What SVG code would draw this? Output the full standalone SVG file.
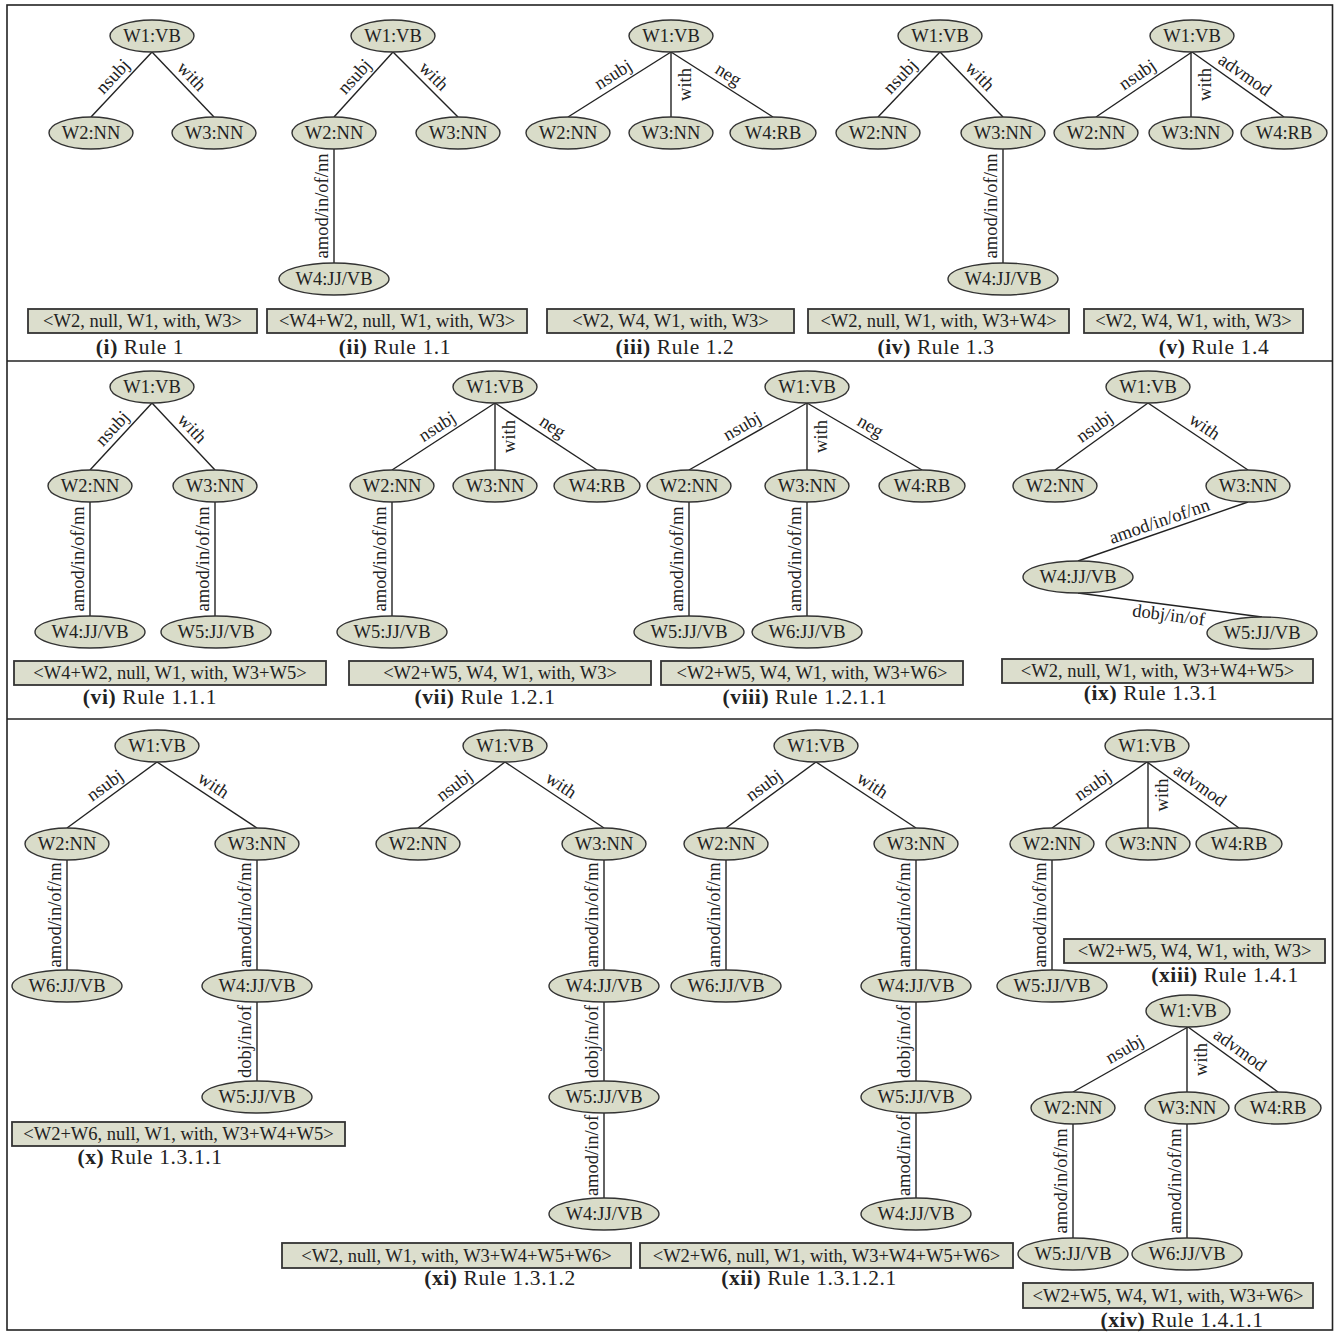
<svg xmlns="http://www.w3.org/2000/svg" width="1337" height="1332" viewBox="0 0 1337 1332">
<style>
text{font-family:"Liberation Serif","Times New Roman",serif;fill:#222;text-anchor:middle}
.node ellipse{fill:#d9dcc9;stroke:#333;stroke-width:1.4}
.node text{font-size:18.5px}
.edges line{stroke:#222;stroke-width:1.4}
.edges text{font-size:18.5px}
.box rect{fill:#dcdecd;stroke:#333;stroke-width:1.8}
.box text{font-size:18.5px}
.cap{font-size:21.5px;letter-spacing:0.6px}
.cap tspan{font-weight:bold}
.frame{fill:#fff;stroke:#222;stroke-width:1.6}
</style>
<rect class="frame" x="7" y="5" width="1325.5" height="1325"/>
<line x1="7" y1="361" x2="1332.5" y2="361" stroke="#222" stroke-width="1.6"/>
<line x1="7" y1="719" x2="1332.5" y2="719" stroke="#222" stroke-width="1.6"/>

<!-- Panel i -->
<g id="panel-i">
<g class="edges" id="edges-i">
<line x1="152" y1="52" x2="91" y2="117"/><line x1="152" y1="52" x2="214" y2="117"/>
<text transform="translate(121.5,84.5) rotate(-46.8)" y="-6">nsubj</text>
<text transform="translate(183,84.5) rotate(46.4)" y="-6">with</text>
</g>
<g class="node" id="i-w1"><ellipse cx="152" cy="36" rx="42" ry="16"/><text x="152" y="42">W1:VB</text></g>
<g class="node" id="i-w2"><ellipse cx="91" cy="133" rx="42" ry="16"/><text x="91" y="139">W2:NN</text></g>
<g class="node" id="i-w3"><ellipse cx="214" cy="133" rx="42" ry="16"/><text x="214" y="139">W3:NN</text></g>
<g class="box" id="i-box"><rect x="28" y="309" width="229" height="24"/><text x="142.5" y="327">&lt;W2, null, W1, with, W3&gt;</text></g>
<text class="cap" x="140" y="354"><tspan>(i)</tspan> Rule 1</text>
</g>

<!-- Panel ii -->
<g id="panel-ii">
<g class="edges" id="edges-ii">
<line x1="393" y1="52" x2="334" y2="117"/><line x1="393" y1="52" x2="458" y2="117"/><line x1="334" y1="149" x2="334" y2="263"/>
<text transform="translate(363.5,84.5) rotate(-47.8)" y="-6">nsubj</text>
<text transform="translate(425.5,84.5) rotate(45)" y="-6">with</text>
<text transform="translate(334,206) rotate(-90)" y="-6">amod/in/of/nn</text>
</g>
<g class="node" id="ii-w1"><ellipse cx="393" cy="36" rx="42" ry="16"/><text x="393" y="42">W1:VB</text></g>
<g class="node" id="ii-w2"><ellipse cx="334" cy="133" rx="42" ry="16"/><text x="334" y="139">W2:NN</text></g>
<g class="node" id="ii-w3"><ellipse cx="458" cy="133" rx="42" ry="16"/><text x="458" y="139">W3:NN</text></g>
<g class="node" id="ii-w4"><ellipse cx="334" cy="279" rx="55" ry="16"/><text x="334" y="285">W4:JJ/VB</text></g>
<g class="box" id="ii-box"><rect x="267" y="309" width="260" height="24"/><text x="397" y="327">&lt;W4+W2, null, W1, with, W3&gt;</text></g>
<text class="cap" x="395" y="354"><tspan>(ii)</tspan> Rule 1.1</text>
</g>

<!-- Panel iii -->
<g id="panel-iii">
<g class="edges" id="edges-iii">
<line x1="671" y1="52" x2="568" y2="117"/><line x1="671" y1="52" x2="671" y2="117"/><line x1="671" y1="52" x2="773" y2="117"/>
<text transform="translate(619.5,84.5) rotate(-32.3)" y="-6">nsubj</text>
<text transform="translate(671,84.5) rotate(-90)" y="20">with</text>
<text transform="translate(722,84.5) rotate(32.5)" y="-6">neg</text>
</g>
<g class="node" id="iii-w1"><ellipse cx="671" cy="36" rx="42" ry="16"/><text x="671" y="42">W1:VB</text></g>
<g class="node" id="iii-w2"><ellipse cx="568" cy="133" rx="42" ry="16"/><text x="568" y="139">W2:NN</text></g>
<g class="node" id="iii-w3"><ellipse cx="671" cy="133" rx="42" ry="16"/><text x="671" y="139">W3:NN</text></g>
<g class="node" id="iii-w4"><ellipse cx="773" cy="133" rx="43" ry="16"/><text x="773" y="139">W4:RB</text></g>
<g class="box" id="iii-box"><rect x="547" y="309" width="247" height="24"/><text x="670.5" y="327">&lt;W2, W4, W1, with, W3&gt;</text></g>
<text class="cap" x="675" y="354"><tspan>(iii)</tspan> Rule 1.2</text>
</g>

<!-- Panel iv -->
<g id="panel-iv">
<g class="edges" id="edges-iv">
<line x1="940" y1="52" x2="878" y2="117"/><line x1="940" y1="52" x2="1003" y2="117"/><line x1="1003" y1="149" x2="1003" y2="263"/>
<text transform="translate(909,84.5) rotate(-46.4)" y="-6">nsubj</text>
<text transform="translate(971.5,84.5) rotate(45.9)" y="-6">with</text>
<text transform="translate(1003,206) rotate(-90)" y="-6">amod/in/of/nn</text>
</g>
<g class="node" id="iv-w1"><ellipse cx="940" cy="36" rx="42" ry="16"/><text x="940" y="42">W1:VB</text></g>
<g class="node" id="iv-w2"><ellipse cx="878" cy="133" rx="42" ry="16"/><text x="878" y="139">W2:NN</text></g>
<g class="node" id="iv-w3"><ellipse cx="1003" cy="133" rx="42" ry="16"/><text x="1003" y="139">W3:NN</text></g>
<g class="node" id="iv-w4"><ellipse cx="1003" cy="279" rx="55" ry="16"/><text x="1003" y="285">W4:JJ/VB</text></g>
<g class="box" id="iv-box"><rect x="808" y="309" width="261" height="24"/><text x="938.5" y="327">&lt;W2, null, W1, with, W3+W4&gt;</text></g>
<text class="cap" x="936" y="354"><tspan>(iv)</tspan> Rule 1.3</text>
</g>

<!-- Panel v -->
<g id="panel-v">
<g class="edges" id="edges-v">
<line x1="1192" y1="52" x2="1096" y2="117"/><line x1="1191" y1="52" x2="1191" y2="117"/><line x1="1192" y1="52" x2="1284" y2="117"/>
<text transform="translate(1144,84.5) rotate(-34.1)" y="-6">nsubj</text>
<text transform="translate(1191,84.5) rotate(-90)" y="20">with</text>
<text transform="translate(1238,84.5) rotate(35.2)" y="-6">advmod</text>
</g>
<g class="node" id="v-w1"><ellipse cx="1192" cy="36" rx="42" ry="16"/><text x="1192" y="42">W1:VB</text></g>
<g class="node" id="v-w2"><ellipse cx="1096" cy="133" rx="42" ry="16"/><text x="1096" y="139">W2:NN</text></g>
<g class="node" id="v-w3"><ellipse cx="1191" cy="133" rx="42" ry="16"/><text x="1191" y="139">W3:NN</text></g>
<g class="node" id="v-w4"><ellipse cx="1284" cy="133" rx="43" ry="16"/><text x="1284" y="139">W4:RB</text></g>
<g class="box" id="v-box"><rect x="1084" y="309" width="219" height="24"/><text x="1193.5" y="327">&lt;W2, W4, W1, with, W3&gt;</text></g>
<text class="cap" x="1214" y="354"><tspan>(v)</tspan> Rule 1.4</text>
</g>

<!-- Panel vi -->
<g id="panel-vi">
<g class="edges" id="edges-vi">
<line x1="152" y1="403" x2="90" y2="470"/><line x1="152" y1="403" x2="215" y2="470"/><line x1="90" y1="502" x2="90" y2="616"/><line x1="215" y1="502" x2="215" y2="616"/>
<text transform="translate(121,436.5) rotate(-47.2)" y="-6">nsubj</text>
<text transform="translate(183.5,436.5) rotate(46.8)" y="-6">with</text>
<text transform="translate(90,559) rotate(-90)" y="-6">amod/in/of/nn</text>
<text transform="translate(215,559) rotate(-90)" y="-6">amod/in/of/nn</text>
</g>
<g class="node" id="vi-w1"><ellipse cx="152" cy="387" rx="42" ry="16"/><text x="152" y="393">W1:VB</text></g>
<g class="node" id="vi-w2"><ellipse cx="90" cy="486" rx="42" ry="16"/><text x="90" y="492">W2:NN</text></g>
<g class="node" id="vi-w3"><ellipse cx="215" cy="486" rx="42" ry="16"/><text x="215" y="492">W3:NN</text></g>
<g class="node" id="vi-w4"><ellipse cx="90" cy="632" rx="55" ry="16"/><text x="90" y="638">W4:JJ/VB</text></g>
<g class="node" id="vi-w5"><ellipse cx="216" cy="632" rx="55" ry="16"/><text x="216" y="638">W5:JJ/VB</text></g>
<g class="box" id="vi-box"><rect x="14" y="661" width="312" height="24"/><text x="170" y="679">&lt;W4+W2, null, W1, with, W3+W5&gt;</text></g>
<text class="cap" x="150" y="704"><tspan>(vi)</tspan> Rule 1.1.1</text>
</g>

<!-- Panel vii -->
<g id="panel-vii">
<g class="edges" id="edges-vii">
<line x1="495" y1="403" x2="392" y2="470"/><line x1="495" y1="403" x2="495" y2="470"/><line x1="495" y1="403" x2="597" y2="470"/><line x1="392" y1="502" x2="392" y2="616"/>
<text transform="translate(443.5,436.5) rotate(-33)" y="-6">nsubj</text>
<text transform="translate(495,436.5) rotate(-90)" y="20">with</text>
<text transform="translate(546,436.5) rotate(33.3)" y="-6">neg</text>
<text transform="translate(392,559) rotate(-90)" y="-6">amod/in/of/nn</text>
</g>
<g class="node" id="vii-w1"><ellipse cx="495" cy="387" rx="42" ry="16"/><text x="495" y="393">W1:VB</text></g>
<g class="node" id="vii-w2"><ellipse cx="392" cy="486" rx="42" ry="16"/><text x="392" y="492">W2:NN</text></g>
<g class="node" id="vii-w3"><ellipse cx="495" cy="486" rx="42" ry="16"/><text x="495" y="492">W3:NN</text></g>
<g class="node" id="vii-w4"><ellipse cx="597" cy="486" rx="43" ry="16"/><text x="597" y="492">W4:RB</text></g>
<g class="node" id="vii-w5"><ellipse cx="392" cy="632" rx="55" ry="16"/><text x="392" y="638">W5:JJ/VB</text></g>
<g class="box" id="vii-box"><rect x="349" y="661" width="302" height="24"/><text x="500" y="679">&lt;W2+W5, W4, W1, with, W3&gt;</text></g>
<text class="cap" x="485" y="704"><tspan>(vii)</tspan> Rule 1.2.1</text>
</g>

<!-- Panel viii -->
<g id="panel-viii">
<g class="edges" id="edges-viii">
<line x1="807" y1="403" x2="689" y2="470"/><line x1="807" y1="403" x2="807" y2="470"/><line x1="807" y1="403" x2="922" y2="470"/><line x1="689" y1="502" x2="689" y2="616"/><line x1="807" y1="502" x2="807" y2="616"/>
<text transform="translate(748,436.5) rotate(-29.6)" y="-6">nsubj</text>
<text transform="translate(807,436.5) rotate(-90)" y="20">with</text>
<text transform="translate(864.5,436.5) rotate(30.2)" y="-6">neg</text>
<text transform="translate(689,559) rotate(-90)" y="-6">amod/in/of/nn</text>
<text transform="translate(807,559) rotate(-90)" y="-6">amod/in/of/nn</text>
</g>
<g class="node" id="viii-w1"><ellipse cx="807" cy="387" rx="42" ry="16"/><text x="807" y="393">W1:VB</text></g>
<g class="node" id="viii-w2"><ellipse cx="689" cy="486" rx="42" ry="16"/><text x="689" y="492">W2:NN</text></g>
<g class="node" id="viii-w3"><ellipse cx="807" cy="486" rx="42" ry="16"/><text x="807" y="492">W3:NN</text></g>
<g class="node" id="viii-w4"><ellipse cx="922" cy="486" rx="43" ry="16"/><text x="922" y="492">W4:RB</text></g>
<g class="node" id="viii-w5"><ellipse cx="689" cy="632" rx="55" ry="16"/><text x="689" y="638">W5:JJ/VB</text></g>
<g class="node" id="viii-w6"><ellipse cx="807" cy="632" rx="55" ry="16"/><text x="807" y="638">W6:JJ/VB</text></g>
<g class="box" id="viii-box"><rect x="661" y="661" width="302" height="24"/><text x="812" y="679">&lt;W2+W5, W4, W1, with, W3+W6&gt;</text></g>
<text class="cap" x="805" y="704"><tspan>(viii)</tspan> Rule 1.2.1.1</text>
</g>

<!-- Panel ix -->
<g id="panel-ix">
<g class="edges" id="edges-ix">
<line x1="1148" y1="403" x2="1055" y2="470"/><line x1="1148" y1="403" x2="1248" y2="470"/><line x1="1248" y1="502" x2="1078" y2="561"/><line x1="1078" y1="593" x2="1262" y2="617"/>
<text transform="translate(1101.5,436.5) rotate(-35.8)" y="-6">nsubj</text>
<text transform="translate(1198,436.5) rotate(33.8)" y="-6">with</text>
<text transform="translate(1163,531.5) rotate(-19.1)" y="-5">amod/in/of/nn</text>
<text transform="translate(1170,605) rotate(7.4)" y="16">dobj/in/of</text>
</g>
<g class="node" id="ix-w1"><ellipse cx="1148" cy="387" rx="42" ry="16"/><text x="1148" y="393">W1:VB</text></g>
<g class="node" id="ix-w2"><ellipse cx="1055" cy="486" rx="42" ry="16"/><text x="1055" y="492">W2:NN</text></g>
<g class="node" id="ix-w3"><ellipse cx="1248" cy="486" rx="42" ry="16"/><text x="1248" y="492">W3:NN</text></g>
<g class="node" id="ix-w4"><ellipse cx="1078" cy="577" rx="55" ry="16"/><text x="1078" y="583">W4:JJ/VB</text></g>
<g class="node" id="ix-w5"><ellipse cx="1262" cy="633" rx="55" ry="16"/><text x="1262" y="639">W5:JJ/VB</text></g>
<g class="box" id="ix-box"><rect x="1002" y="659" width="311" height="24"/><text x="1157.5" y="677">&lt;W2, null, W1, with, W3+W4+W5&gt;</text></g>
<text class="cap" x="1151" y="700"><tspan>(ix)</tspan> Rule 1.3.1</text>
</g>

<!-- Panel x -->
<g id="panel-x">
<g class="edges" id="edges-x">
<line x1="157" y1="762" x2="67" y2="828"/><line x1="157" y1="762" x2="257" y2="828"/><line x1="67" y1="860" x2="67" y2="970"/><line x1="257" y1="860" x2="257" y2="970"/><line x1="257" y1="1002" x2="257" y2="1081"/>
<text transform="translate(112,795) rotate(-36.3)" y="-6">nsubj</text>
<text transform="translate(207,795) rotate(33.4)" y="-6">with</text>
<text transform="translate(67,915) rotate(-90)" y="-6">amod/in/of/nn</text>
<text transform="translate(257,915) rotate(-90)" y="-6">amod/in/of/nn</text>
<text transform="translate(257,1041.5) rotate(-90)" y="-6">dobj/in/of</text>
</g>
<g class="node" id="x-w1"><ellipse cx="157" cy="746" rx="42" ry="16"/><text x="157" y="752">W1:VB</text></g>
<g class="node" id="x-w2"><ellipse cx="67" cy="844" rx="42" ry="16"/><text x="67" y="850">W2:NN</text></g>
<g class="node" id="x-w3"><ellipse cx="257" cy="844" rx="42" ry="16"/><text x="257" y="850">W3:NN</text></g>
<g class="node" id="x-w6"><ellipse cx="67" cy="986" rx="55" ry="16"/><text x="67" y="992">W6:JJ/VB</text></g>
<g class="node" id="x-w4"><ellipse cx="257" cy="986" rx="55" ry="16"/><text x="257" y="992">W4:JJ/VB</text></g>
<g class="node" id="x-w5"><ellipse cx="257" cy="1097" rx="55" ry="16"/><text x="257" y="1103">W5:JJ/VB</text></g>
<g class="box" id="x-box"><rect x="12" y="1122" width="333" height="24"/><text x="178.5" y="1140">&lt;W2+W6, null, W1, with, W3+W4+W5&gt;</text></g>
<text class="cap" x="150" y="1164"><tspan>(x)</tspan> Rule 1.3.1.1</text>
</g>

<!-- Panel xi -->
<g id="panel-xi">
<g class="edges" id="edges-xi">
<line x1="505" y1="762" x2="418" y2="828"/><line x1="505" y1="762" x2="604" y2="828"/><line x1="604" y1="860" x2="604" y2="970"/><line x1="604" y1="1002" x2="604" y2="1081"/><line x1="604" y1="1113" x2="604" y2="1198"/>
<text transform="translate(461.5,795) rotate(-37.2)" y="-6">nsubj</text>
<text transform="translate(554.5,795) rotate(33.7)" y="-6">with</text>
<text transform="translate(604,915) rotate(-90)" y="-6">amod/in/of/nn</text>
<text transform="translate(604,1041.5) rotate(-90)" y="-6">dobj/in/of</text>
<text transform="translate(604,1155.5) rotate(-90)" y="-6">amod/in/of</text>
</g>
<g class="node" id="xi-w1"><ellipse cx="505" cy="746" rx="42" ry="16"/><text x="505" y="752">W1:VB</text></g>
<g class="node" id="xi-w2"><ellipse cx="418" cy="844" rx="42" ry="16"/><text x="418" y="850">W2:NN</text></g>
<g class="node" id="xi-w3"><ellipse cx="604" cy="844" rx="42" ry="16"/><text x="604" y="850">W3:NN</text></g>
<g class="node" id="xi-w4"><ellipse cx="604" cy="986" rx="55" ry="16"/><text x="604" y="992">W4:JJ/VB</text></g>
<g class="node" id="xi-w5"><ellipse cx="604" cy="1097" rx="55" ry="16"/><text x="604" y="1103">W5:JJ/VB</text></g>
<g class="node" id="xi-w4b"><ellipse cx="604" cy="1214" rx="55" ry="16"/><text x="604" y="1220">W4:JJ/VB</text></g>
<g class="box" id="xi-box"><rect x="282" y="1243" width="349" height="25"/><text x="456.5" y="1261.5">&lt;W2, null, W1, with, W3+W4+W5+W6&gt;</text></g>
<text class="cap" x="500" y="1285"><tspan>(xi)</tspan> Rule 1.3.1.2</text>
</g>

<!-- Panel xii -->
<g id="panel-xii">
<g class="edges" id="edges-xii">
<line x1="816" y1="762" x2="726" y2="828"/><line x1="816" y1="762" x2="916" y2="828"/><line x1="726" y1="860" x2="726" y2="970"/><line x1="916" y1="860" x2="916" y2="970"/><line x1="916" y1="1002" x2="916" y2="1081"/><line x1="916" y1="1113" x2="916" y2="1198"/>
<text transform="translate(771,795) rotate(-36.3)" y="-6">nsubj</text>
<text transform="translate(866,795) rotate(33.4)" y="-6">with</text>
<text transform="translate(726,915) rotate(-90)" y="-6">amod/in/of/nn</text>
<text transform="translate(916,915) rotate(-90)" y="-6">amod/in/of/nn</text>
<text transform="translate(916,1041.5) rotate(-90)" y="-6">dobj/in/of</text>
<text transform="translate(916,1155.5) rotate(-90)" y="-6">amod/in/of</text>
</g>
<g class="node" id="xii-w1"><ellipse cx="816" cy="746" rx="42" ry="16"/><text x="816" y="752">W1:VB</text></g>
<g class="node" id="xii-w2"><ellipse cx="726" cy="844" rx="42" ry="16"/><text x="726" y="850">W2:NN</text></g>
<g class="node" id="xii-w3"><ellipse cx="916" cy="844" rx="42" ry="16"/><text x="916" y="850">W3:NN</text></g>
<g class="node" id="xii-w6"><ellipse cx="726" cy="986" rx="55" ry="16"/><text x="726" y="992">W6:JJ/VB</text></g>
<g class="node" id="xii-w4"><ellipse cx="916" cy="986" rx="55" ry="16"/><text x="916" y="992">W4:JJ/VB</text></g>
<g class="node" id="xii-w5"><ellipse cx="916" cy="1097" rx="55" ry="16"/><text x="916" y="1103">W5:JJ/VB</text></g>
<g class="node" id="xii-w4b"><ellipse cx="916" cy="1214" rx="55" ry="16"/><text x="916" y="1220">W4:JJ/VB</text></g>
<g class="box" id="xii-box"><rect x="640" y="1243" width="373" height="25"/><text x="826.5" y="1261.5">&lt;W2+W6, null, W1, with, W3+W4+W5+W6&gt;</text></g>
<text class="cap" x="809" y="1285"><tspan>(xii)</tspan> Rule 1.3.1.2.1</text>
</g>

<!-- Panel xiii -->
<g id="panel-xiii">
<g class="edges" id="edges-xiii">
<line x1="1147" y1="762" x2="1052" y2="828"/><line x1="1148" y1="762" x2="1148" y2="828"/><line x1="1147" y1="762" x2="1239" y2="828"/><line x1="1052" y1="860" x2="1052" y2="970"/>
<text transform="translate(1099.5,795) rotate(-34.8)" y="-6">nsubj</text>
<text transform="translate(1148,795) rotate(-90)" y="20">with</text>
<text transform="translate(1193,795) rotate(35.7)" y="-6">advmod</text>
<text transform="translate(1052,915) rotate(-90)" y="-6">amod/in/of/nn</text>
</g>
<g class="node" id="xiii-w1"><ellipse cx="1147" cy="746" rx="42" ry="16"/><text x="1147" y="752">W1:VB</text></g>
<g class="node" id="xiii-w2"><ellipse cx="1052" cy="844" rx="42" ry="16"/><text x="1052" y="850">W2:NN</text></g>
<g class="node" id="xiii-w3"><ellipse cx="1148" cy="844" rx="42" ry="16"/><text x="1148" y="850">W3:NN</text></g>
<g class="node" id="xiii-w4"><ellipse cx="1239" cy="844" rx="43" ry="16"/><text x="1239" y="850">W4:RB</text></g>
<g class="node" id="xiii-w5"><ellipse cx="1052" cy="986" rx="55" ry="16"/><text x="1052" y="992">W5:JJ/VB</text></g>
<g class="box" id="xiii-box"><rect x="1064" y="939" width="261" height="24"/><text x="1194.5" y="957">&lt;W2+W5, W4, W1, with, W3&gt;</text></g>
<text class="cap" x="1225" y="982"><tspan>(xiii)</tspan> Rule 1.4.1</text>
</g>

<!-- Panel xiv -->
<g id="panel-xiv">
<g class="edges" id="edges-xiv">
<line x1="1188" y1="1027" x2="1073" y2="1092"/><line x1="1187" y1="1027" x2="1187" y2="1092"/><line x1="1188" y1="1027" x2="1278" y2="1092"/><line x1="1073" y1="1124" x2="1073" y2="1238"/><line x1="1187" y1="1124" x2="1187" y2="1238"/>
<text transform="translate(1130.5,1059.5) rotate(-29.5)" y="-6">nsubj</text>
<text transform="translate(1187,1059.5) rotate(-90)" y="20">with</text>
<text transform="translate(1233,1059.5) rotate(35.8)" y="-6">advmod</text>
<text transform="translate(1073,1181) rotate(-90)" y="-6">amod/in/of/nn</text>
<text transform="translate(1187,1181) rotate(-90)" y="-6">amod/in/of/nn</text>
</g>
<g class="node" id="xiv-w1"><ellipse cx="1188" cy="1011" rx="42" ry="16"/><text x="1188" y="1017">W1:VB</text></g>
<g class="node" id="xiv-w2"><ellipse cx="1073" cy="1108" rx="42" ry="16"/><text x="1073" y="1114">W2:NN</text></g>
<g class="node" id="xiv-w3"><ellipse cx="1187" cy="1108" rx="42" ry="16"/><text x="1187" y="1114">W3:NN</text></g>
<g class="node" id="xiv-w4"><ellipse cx="1278" cy="1108" rx="43" ry="16"/><text x="1278" y="1114">W4:RB</text></g>
<g class="node" id="xiv-w5"><ellipse cx="1073" cy="1254" rx="55" ry="16"/><text x="1073" y="1260">W5:JJ/VB</text></g>
<g class="node" id="xiv-w6"><ellipse cx="1187" cy="1254" rx="55" ry="16"/><text x="1187" y="1260">W6:JJ/VB</text></g>
<g class="box" id="xiv-box"><rect x="1023" y="1283" width="290" height="25"/><text x="1168" y="1301.5">&lt;W2+W5, W4, W1, with, W3+W6&gt;</text></g>
<text class="cap" x="1182" y="1327"><tspan>(xiv)</tspan> Rule 1.4.1.1</text>
</g>
</svg>
